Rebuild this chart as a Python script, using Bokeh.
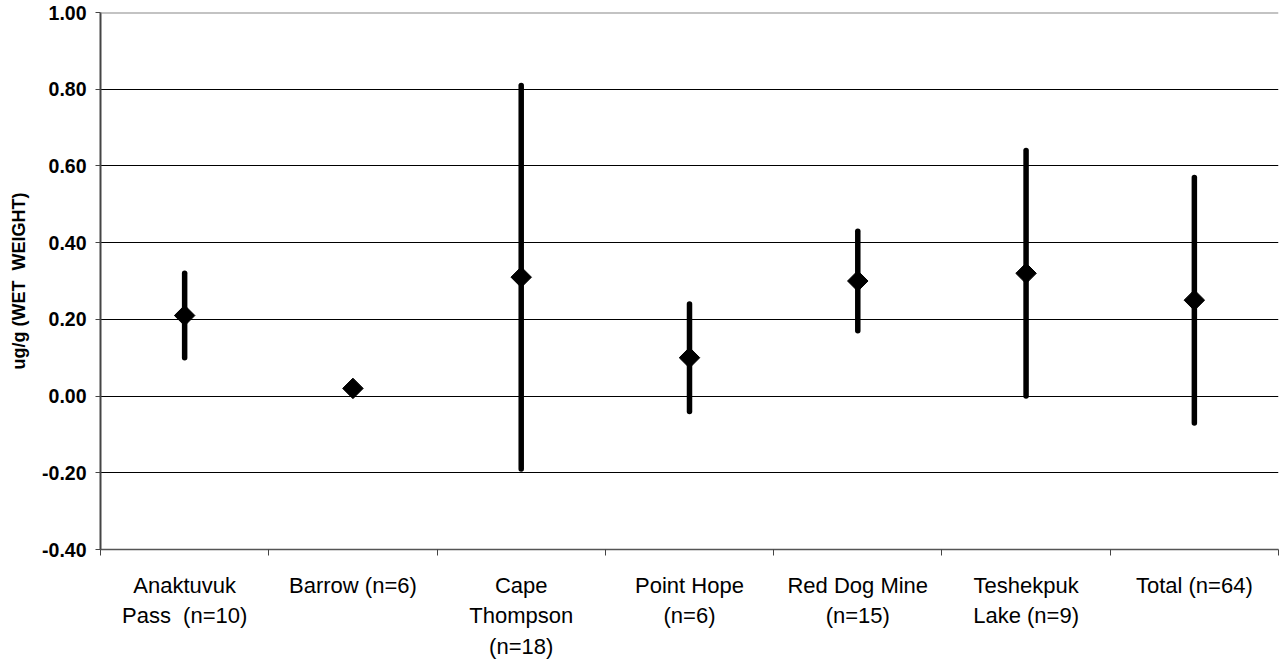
import math
from bokeh.plotting import figure
from bokeh.models import (ColumnDataSource, FixedTicker, NumeralTickFormatter,
                          CustomJSTickFormatter, Span, Range1d)
from bokeh.embed import file_html
from bokeh.resources import INLINE

# Sites and sample counts (one label per site, line breaks as printed)
sites = [
    "Anaktuvuk\nPass\u00a0\u00a0(n=10)",
    "Barrow (n=6)",
    "Cape\nThompson\n(n=18)",
    "Point Hope\n(n=6)",
    "Red Dog Mine\n(n=15)",
    "Teshekpuk\nLake (n=9)",
    "Total (n=64)",
]
# Concentration, ug/g wet weight
mean_val = [0.21, 0.02, 0.31, 0.10, 0.30, 0.32, 0.25]
upper_val = [0.32, 0.02, 0.81, 0.24, 0.43, 0.64, 0.57]
lower_val = [0.10, 0.02, -0.19, -0.04, 0.17, 0.00, -0.07]
y_ticks = [-0.4, -0.2, 0.0, 0.2, 0.4, 0.6, 0.8, 1.0]

xpos = [i + 0.5 for i in range(len(sites))]
src = ColumnDataSource(dict(x=xpos, mean=mean_val, hi=upper_val, lo=lower_val))

FONT = "Liberation Sans"

p = figure(frame_width=1178, frame_height=537,
           min_border_left=100, min_border_right=3, min_border_top=12,
           min_border_bottom=10,
           x_range=Range1d(0, len(sites)), y_range=Range1d(-0.4, 1.0),
           output_backend="svg", toolbar_location=None,
           background_fill_color="white", border_fill_color="white")
p.outline_line_color = None

# range bars and mean markers
p.segment(x0="x", y0="lo", x1="x", y1="hi", source=src,
          line_color="black", line_width=5.5, line_cap="round")
p.scatter(x="x", y="mean", source=src, marker="square", size=14.5,
          angle=math.pi / 4, fill_color="black", line_color="black")

# y axis
p.yaxis.ticker = FixedTicker(ticks=y_ticks)
p.yaxis.formatter = NumeralTickFormatter(format="0.00")
p.yaxis.major_label_text_font = FONT
p.yaxis.major_label_text_font_style = "bold"
p.yaxis.major_label_text_font_size = "19.5px"
p.yaxis.major_label_text_color = "black"
p.yaxis.major_label_standoff = 9
p.yaxis.major_tick_out = 5
p.yaxis.major_tick_in = 0
p.yaxis.minor_tick_line_color = None
p.yaxis.major_tick_line_color = "#444444"
p.yaxis.axis_line_color = "#444444"
p.yaxis.axis_line_width = 2
p.yaxis.axis_label = "ug/g (WET\u00a0\u00a0WEIGHT)"
p.yaxis.axis_label_text_font = FONT
p.yaxis.axis_label_text_font_style = "bold"
p.yaxis.axis_label_text_font_size = "18px"
p.yaxis.axis_label_text_color = "black"
p.yaxis.axis_label_standoff = 10

# x axis: labels at site centres, ticks at site boundaries
p.xaxis.ticker = FixedTicker(ticks=xpos,
                             minor_ticks=list(range(len(sites) + 1)))
p.xaxis.formatter = CustomJSTickFormatter(args=dict(labels=sites),
                                          code="return labels[Math.floor(tick)];")
p.xaxis.major_tick_out = 0
p.xaxis.major_tick_in = 0
p.xaxis.minor_tick_out = 6
p.xaxis.minor_tick_in = 0
p.xaxis.minor_tick_line_color = "#444444"
p.xaxis.axis_line_color = "#555555"
p.xaxis.axis_line_width = 1.5
p.xaxis.major_label_text_font = FONT
p.xaxis.major_label_text_font_size = "22px"
p.xaxis.major_label_text_color = "black"
p.xaxis.major_label_text_line_height = 1.23
p.xaxis.major_label_standoff = 17

p.xgrid.visible = False
p.ygrid.grid_line_color = "black"
p.ygrid.grid_line_width = 1

# top edge of the plot area
p.add_layout(Span(location=1.0, dimension="width", line_color="#888888",
                  line_width=2))

open("out.html", "w").write(file_html(p, INLINE))
